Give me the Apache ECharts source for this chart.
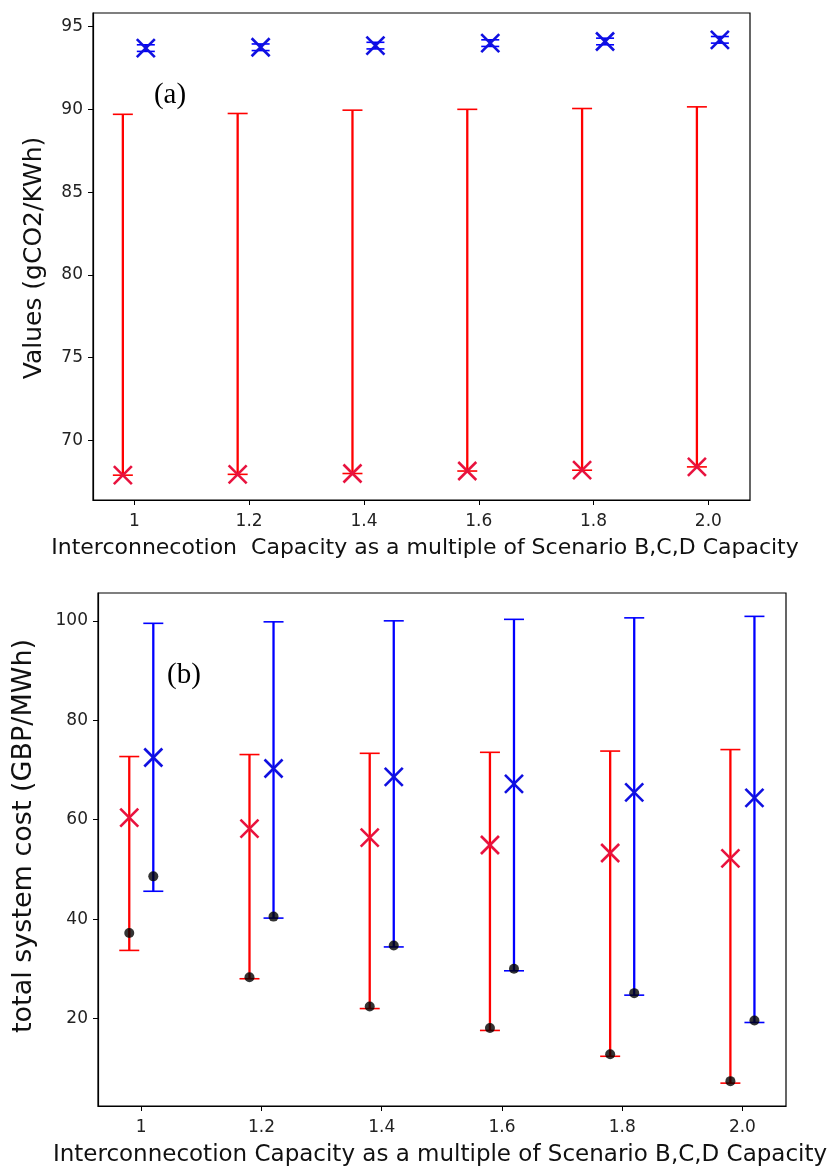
<!DOCTYPE html>
<html>
<head>
<meta charset="utf-8">
<script src="https://cdn.jsdelivr.net/npm/echarts@6/dist/echarts.min.js"></script>
<style>
html,body{margin:0;padding:0;background:#fff;}
#chart{width:832px;height:1167px;}
</style>
</head>
<body>
<div id="chart"></div>
<script>
// categories (x positions of groups) and tick labels
const xCats = [1, 1.2, 1.4, 1.6, 1.8, 2.0];
const xTickLabels = ['1', '1.2', '1.4', '1.6', '1.8', '2.0'];
const yTicksA = [70, 75, 80, 85, 90, 95];
const yTicksB = [20, 40, 60, 80, 100];

// panel (a): emissions
const redMeanA  = [67.9, 67.95, 68.0, 68.15, 68.2, 68.4];
const redLowA   = [67.9, 67.95, 68.0, 68.15, 68.2, 68.4];
const redHighA  = [89.7, 89.75, 89.95, 90.0, 90.05, 90.15];
const blueMeanA = [93.7, 93.75, 93.85, 94.0, 94.1, 94.2];
const blueLowA  = [93.5, 93.55, 93.65, 93.8, 93.9, 94.0];
const blueHighA = [93.9, 93.95, 94.05, 94.2, 94.3, 94.4];

// panel (b): total system cost
const redMeanB  = [60.4, 58.2, 56.4, 54.9, 53.3, 52.2];
const redLowB   = [33.7, 28.0, 22.0, 17.6, 12.4, 7.0];
const redHighB  = [72.7, 73.1, 73.35, 73.55, 73.8, 74.1];
const redDotB   = [37.2, 28.3, 22.4, 18.1, 12.8, 7.4];
const blueMeanB = [72.5, 70.3, 68.6, 67.2, 65.5, 64.4];
const blueLowB  = [45.6, 40.2, 34.4, 29.6, 24.7, 19.2];
const blueHighB = [99.5, 99.8, 100.0, 100.3, 100.6, 100.9];
const blueDotB  = [48.6, 40.5, 34.7, 30.0, 25.1, 19.6];

const OFFSET = 0.02;
const RED = '#ff0000', BLUE = '#0000ff', RED_X = '#e8123e', BLUE_X = '#1010e0';
const FONT = 'DejaVu Sans';

function errData(low, high, sign) {
  return xCats.map((c, i) => [c + sign * OFFSET, low[i], high[i]]);
}
function ptData(vals, sign) {
  return xCats.map((c, i) => [c + sign * OFFSET, vals[i]]);
}

function errorBarSeries(gi, data, color, capHalf, lw) {
  return {
    type: 'custom', xAxisIndex: gi, yAxisIndex: gi, z: 2,
    data: data,
    renderItem: function (params, api) {
      const x = api.value(0);
      const lo = api.coord([x, api.value(1)]);
      const hi = api.coord([x, api.value(2)]);
      const st = { stroke: color, lineWidth: lw };
      const cst = { stroke: color, lineWidth: 1.6 };
      return {
        type: 'group',
        children: [
          { type: 'line', shape: { x1: lo[0], y1: lo[1], x2: hi[0], y2: hi[1] }, style: st },
          { type: 'line', shape: { x1: hi[0] - capHalf, y1: hi[1], x2: hi[0] + capHalf, y2: hi[1] }, style: cst },
          { type: 'line', shape: { x1: lo[0] - capHalf, y1: lo[1], x2: lo[0] + capHalf, y2: lo[1] }, style: cst }
        ]
      };
    }
  };
}

function crossSeries(gi, data, color, half) {
  return {
    type: 'custom', xAxisIndex: gi, yAxisIndex: gi, z: 4,
    data: data,
    renderItem: function (params, api) {
      const p = api.coord([api.value(0), api.value(1)]);
      const st = { stroke: color, lineWidth: 2.6 };
      return {
        type: 'group',
        children: [
          { type: 'line', shape: { x1: p[0] - half, y1: p[1] - half, x2: p[0] + half, y2: p[1] + half }, style: st },
          { type: 'line', shape: { x1: p[0] - half, y1: p[1] + half, x2: p[0] + half, y2: p[1] - half }, style: st }
        ]
      };
    }
  };
}

function dotSeries(gi, data) {
  return {
    type: 'scatter', xAxisIndex: gi, yAxisIndex: gi, z: 3,
    symbol: 'circle', symbolSize: 10,
    itemStyle: { color: '#000' },
    data: data
  };
}

function xAxisCfg(gi, margin) {
  return {
    type: 'value', gridIndex: gi, min: 0.928, max: 2.0725,
    axisLine: { show: true, lineStyle: { color: '#000', width: 1.2 } },
    axisTick: { show: true, length: 5, customValues: xCats, lineStyle: { color: '#000' } },
    axisLabel: {
      customValues: xCats, margin: margin, fontSize: 17, fontFamily: FONT, color: '#222',
      formatter: function (v) {
        const i = xCats.findIndex(c => Math.abs(c - v) < 1e-6);
        return i >= 0 ? xTickLabels[i] : '';
      }
    },
    splitLine: { show: false }
  };
}
function yAxisCfg(gi, min, max, ticks) {
  return {
    type: 'value', gridIndex: gi, min: min, max: max,
    axisLine: { show: true, lineStyle: { color: '#000', width: 1.2 } },
    axisTick: { show: true, length: 5, customValues: ticks, lineStyle: { color: '#000' } },
    axisLabel: { customValues: ticks, margin: 10, fontSize: 17, fontFamily: FONT, color: '#222' },
    splitLine: { show: false }
  };
}

const chart = echarts.init(document.getElementById('chart'), null, { renderer: 'canvas' });
chart.setOption({
  backgroundColor: '#fff',
  animation: false,
  grid: [
    { left: 93, top: 13, width: 657, height: 487, show: true, borderColor: '#000', borderWidth: 1.2, backgroundColor: '#fff' },
    { left: 98, top: 593, width: 688, height: 513, show: true, borderColor: '#000', borderWidth: 1.2, backgroundColor: '#fff' }
  ],
  xAxis: [xAxisCfg(0, 13), xAxisCfg(1, 13)],
  yAxis: [yAxisCfg(0, 66.4, 95.82, yTicksA), yAxisCfg(1, 2.4, 105.6, yTicksB)],
  series: [
    errorBarSeries(0, errData(redLowA, redHighA, -1), RED, 10, 2.3),
    errorBarSeries(0, errData(blueLowA, blueHighA, 1), BLUE, 9, 2.3),
    crossSeries(0, ptData(redMeanA, -1), RED_X, 9),
    crossSeries(0, ptData(blueMeanA, 1), BLUE_X, 9),
    errorBarSeries(1, errData(redLowB, redHighB, -1), RED, 10, 2.3),
    errorBarSeries(1, errData(blueLowB, blueHighB, 1), BLUE, 10, 2.3),
    dotSeries(1, ptData(redDotB, -1)),
    dotSeries(1, ptData(blueDotB, 1)),
    crossSeries(1, ptData(redMeanB, -1), RED_X, 9),
    crossSeries(1, ptData(blueMeanB, 1), BLUE_X, 9)
  ],
  graphic: [
    { type: 'text', z: 10, style: { x: 425, y: 548, text: 'Interconnecotion  Capacity as a multiple of Scenario B,C,D Capacity', fontSize: 22, fontFamily: FONT, fill: '#111', textAlign: 'center', textVerticalAlign: 'middle' } },
    { type: 'text', z: 10, style: { x: 440, y: 1155, text: 'Interconnecotion Capacity as a multiple of Scenario B,C,D Capacity', fontSize: 23, fontFamily: FONT, fill: '#111', textAlign: 'center', textVerticalAlign: 'middle' } },
    { type: 'text', z: 10, x: 34, y: 258, rotation: Math.PI / 2, style: { x: 0, y: 0, text: 'Values (gCO2/KWh)', fontSize: 25, fontFamily: FONT, fill: '#111', textAlign: 'center', textVerticalAlign: 'middle' } },
    { type: 'text', z: 10, x: 24, y: 836, rotation: Math.PI / 2, style: { x: 0, y: 0, text: 'total system cost (GBP/MWh)', fontSize: 27, fontFamily: FONT, fill: '#111', textAlign: 'center', textVerticalAlign: 'middle' } },
    { type: 'text', z: 10, style: { x: 170, y: 95, text: '(a)', fontSize: 29, fontFamily: 'Liberation Serif', fill: '#000', textAlign: 'center', textVerticalAlign: 'middle' } },
    { type: 'text', z: 10, style: { x: 184, y: 675, text: '(b)', fontSize: 29, fontFamily: 'Liberation Serif', fill: '#000', textAlign: 'center', textVerticalAlign: 'middle' } }
  ]
});
</script>
</body>
</html>
